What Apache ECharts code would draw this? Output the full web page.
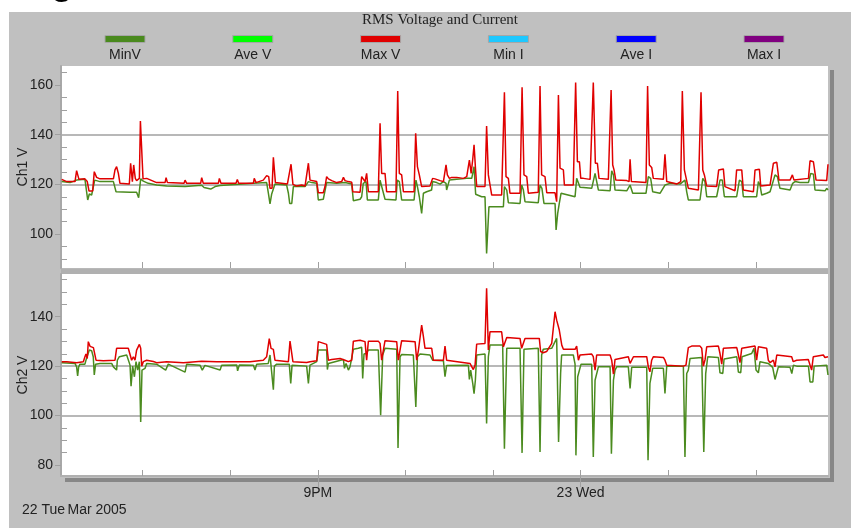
<!DOCTYPE html>
<html><head><meta charset="utf-8">
<script src="https://cdn.jsdelivr.net/npm/echarts@6/dist/echarts.min.js"></script>
<style>html,body{margin:0;padding:0;background:#fff}#c{width:851px;height:531px}</style>
</head><body><div id="c"></div>
<script>
// time in minutes after 18:00 on 22 Mar 2005, value in volts
const ch1Max = [[4.5,122.0],[7.9,121.1],[13.6,121.1],[14.7,125.5],[16.3,122.0],[20.4,122.2],[22.0,121.1],[23.2,117.3],[25.7,117.3],[26.8,125.1],[28.4,122.8],[30.7,122.2],[39.9,122.2],[41.0,125.8],[42.1,127.1],[43.3,124.4],[44.4,120.4],[50.8,120.1],[51.7,128.5],[52.9,121.1],[53.8,127.8],[54.9,122.4],[55.8,121.5],[57.7,122.4],[58.4,145.5],[59.3,145.5],[60.2,122.2],[62.7,122.4],[69.5,120.7],[75.3,120.7],[76.0,122.7],[76.9,120.7],[88.3,120.4],[89.0,121.7],[90.1,120.4],[99.7,120.4],[100.4,122.7],[101.5,120.4],[111.8,120.4],[112.5,122.4],[113.6,120.4],[123.9,120.4],[124.8,122.0],[125.7,120.4],[135.8,120.4],[136.4,122.4],[137.6,120.7],[142.6,121.7],[144.9,123.5],[146.3,123.1],[147.2,118.4],[148.6,118.4],[149.5,130.9],[150.9,120.7],[159.1,120.1],[160.2,119.7],[161.6,128.1],[162.9,120.0],[165.5,119.3],[168.9,119.7],[171.2,119.3],[173.5,128.5],[174.6,121.7],[175.8,121.5],[179.2,121.1],[180.3,116.6],[183.7,116.6],[184.9,119.1],[186.0,123.1],[187.2,122.2],[189.5,121.5],[192.9,120.7],[196.3,121.1],[197.5,122.8],[198.6,121.5],[200.9,121.1],[203.2,120.8],[203.9,117.0],[208.9,116.8],[210.0,123.1],[211.1,123.8],[212.3,121.1],[213.4,124.4],[214.6,117.0],[221.4,117.0],[222.6,144.6],[223.7,124.4],[226.0,124.4],[227.1,117.0],[233.5,117.0],[234.7,157.6],[235.8,124.4],[237.4,123.8],[238.6,117.0],[245.9,117.0],[247.0,140.6],[248.2,127.1],[249.5,123.8],[251.1,119.1],[252.3,119.3],[256.8,119.3],[258.6,122.4],[260.2,122.2],[263.7,121.5],[266.0,121.1],[267.8,127.8],[268.7,123.8],[270.1,122.4],[271.7,122.8],[275.1,122.8],[279.7,122.4],[282.0,123.1],[283.8,129.8],[285.0,124.4],[286.1,130.1],[287.0,135.9],[287.9,127.1],[288.8,119.1],[294.5,119.1],[295.6,143.5],[296.8,123.8],[297.9,123.1],[299.1,115.7],[305.9,115.7],[307.8,157.1],[308.9,123.1],[310.5,122.4],[311.6,116.4],[318.5,116.4],[319.9,159.1],[321.2,123.8],[323.1,123.1],[324.2,116.4],[331.0,116.8],[332.2,159.6],[333.3,123.8],[335.6,123.1],[336.8,116.6],[342.5,116.6],[343.6,113.0],[344.8,156.0],[345.9,126.5],[347.0,126.5],[348.2,125.8],[348.9,119.7],[355.0,119.7],[356.6,161.0],[357.8,129.1],[359.2,129.1],[360.1,122.4],[361.9,122.4],[366.5,122.0],[367.6,121.7],[368.7,161.0],[370.1,128.5],[371.5,128.5],[372.6,122.4],[379.0,122.0],[380.2,121.7],[380.9,158.0],[382.0,127.8],[382.9,125.8],[384.1,121.7],[391.6,121.5],[393.2,121.1],[393.9,130.1],[394.8,121.1],[404.8,120.7],[405.9,159.6],[407.1,127.8],[408.7,126.8],[409.8,122.4],[416.7,122.0],[417.8,132.1],[419.0,121.1],[420.1,120.4],[425.8,120.1],[428.6,121.1],[429.7,157.6],[431.1,125.8],[432.2,125.1],[433.8,118.4],[440.7,117.7],[442.5,157.1],[443.7,125.8],[444.8,123.8],[446.4,119.3],[453.2,119.1],[454.6,125.8],[457.8,126.2],[458.9,119.1],[465.8,117.4],[466.9,125.8],[470.4,125.8],[471.5,117.7],[478.4,117.0],[479.5,125.8],[482.5,126.1],[483.4,119.3],[489.8,119.7],[492.1,128.5],[494.4,128.9],[495.9,121.7],[503.5,121.7],[505.1,123.8],[506.2,121.7],[516.1,122.4],[517.2,129.5],[519.5,129.1],[521.3,121.7],[528.6,121.5],[529.5,128.1]];

const ch1Min = [[4.5,121.1],[10.2,120.7],[14.7,121.7],[20.4,122.0],[21.1,119.0],[22.3,113.7],[23.4,116.1],[25.0,115.7],[26.1,115.7],[27.1,121.7],[30.7,121.1],[39.9,121.1],[41.7,117.0],[51.3,116.8],[55.8,116.8],[57.2,114.6],[58.6,122.2],[60.4,121.3],[63.8,120.4],[69.5,119.7],[76.4,119.3],[89.0,119.1],[100.4,119.6],[102.0,118.7],[106.6,118.1],[109.6,119.1],[113.0,119.5],[135.8,120.4],[144.9,120.7],[146.1,116.4],[147.2,112.1],[148.3,116.0],[149.5,116.6],[150.6,120.1],[158.6,119.7],[159.8,116.4],[160.7,112.3],[162.1,112.3],[163.2,119.1],[171.2,119.1],[173.5,121.1],[175.8,120.7],[179.2,120.4],[180.3,113.7],[183.7,114.0],[184.9,114.4],[186.0,120.7],[187.2,121.1],[192.9,120.4],[198.6,120.7],[203.2,120.1],[204.3,113.4],[208.9,114.0],[210.0,115.0],[211.1,120.4],[213.0,121.1],[213.9,113.7],[221.4,113.7],[222.6,121.7],[223.7,121.1],[226.0,114.0],[233.5,113.7],[234.4,121.7],[235.8,121.1],[237.4,113.7],[245.9,113.7],[247.2,121.7],[248.2,119.1],[249.5,115.0],[251.1,108.3],[252.3,116.4],[254.5,117.0],[257.9,117.7],[258.6,121.1],[261.4,120.7],[263.7,120.1],[266.0,121.1],[267.8,120.4],[268.2,117.7],[270.1,121.7],[275.1,122.0],[282.0,122.4],[285.4,122.4],[287.0,127.1],[288.1,116.0],[292.2,115.0],[294.5,115.0],[295.6,92.2],[297.2,111.0],[307.1,111.0],[307.8,119.1],[309.4,117.7],[310.5,112.6],[318.5,112.3],[319.6,119.7],[320.8,117.7],[321.9,113.0],[331.0,112.6],[332.2,119.7],[333.5,118.4],[334.9,112.3],[342.5,112.3],[343.2,101.6],[344.3,108.3],[345.4,112.3],[346.6,116.4],[347.7,115.7],[356.2,115.0],[357.3,122.4],[358.5,122.4],[359.6,118.8],[361.9,118.7],[367.6,118.4],[368.7,118.4],[369.9,124.4],[371.0,123.8],[372.2,117.7],[380.2,117.4],[381.3,125.4],[382.5,123.8],[383.6,117.7],[391.6,117.4],[393.9,119.7],[395.7,116.4],[404.8,116.4],[406.4,123.1],[408.0,122.4],[409.4,117.0],[414.4,116.4],[417.8,119.7],[418.5,120.1],[421.3,120.4],[428.1,120.1],[431.5,121.7],[432.7,117.0],[433.8,113.7],[441.8,113.7],[443.7,122.4],[445.2,121.1],[446.4,115.0],[453.2,115.0],[455.5,121.7],[457.1,121.7],[458.5,115.0],[466.9,115.0],[468.8,121.7],[470.4,121.1],[471.5,115.0],[480.6,115.0],[481.8,121.1],[482.9,119.7],[484.1,115.7],[487.5,116.4],[489.8,117.0],[493.2,123.8],[494.8,123.1],[496.6,118.4],[503.5,117.7],[505.3,120.4],[506.9,121.1],[510.3,120.7],[516.1,120.7],[517.7,124.4],[519.5,124.1],[520.6,117.7],[527.5,117.4],[528.6,118.4],[529.5,117.7]];

const ch2Max = [[4.5,121.8],[7.9,121.8],[14.7,121.4],[19.3,121.8],[20.4,123.8],[21.1,124.9],[22.0,123.1],[22.7,129.9],[23.9,128.0],[26.2,127.5],[27.3,127.5],[28.0,122.4],[28.9,121.8],[33.0,122.2],[41.0,122.4],[42.1,127.2],[43.3,127.4],[50.1,127.2],[51.3,126.8],[52.4,122.4],[53.6,123.8],[54.7,122.4],[55.8,126.5],[57.7,128.8],[58.6,127.2],[59.3,120.0],[60.4,121.8],[62.7,122.4],[67.3,121.9],[69.5,121.4],[76.4,121.8],[87.8,121.4],[100.4,122.0],[110.7,121.8],[122.1,121.8],[133.5,121.8],[142.6,122.4],[144.9,123.8],[146.7,131.1],[147.9,127.2],[149.5,126.8],[150.6,122.4],[151.8,121.8],[159.8,121.8],[160.9,130.1],[162.0,129.9],[162.9,121.8],[172.3,121.5],[173.5,120.8],[174.6,121.8],[179.2,122.2],[180.3,129.9],[181.5,129.2],[186.0,128.8],[187.2,122.4],[189.5,122.7],[195.2,123.1],[198.6,122.4],[200.9,121.8],[203.2,122.4],[204.3,130.1],[208.9,130.5],[212.3,129.9],[213.4,122.4],[214.6,130.1],[221.4,130.1],[222.6,129.2],[223.7,122.4],[226.0,130.3],[234.0,129.9],[235.1,122.4],[237.4,130.3],[246.6,129.9],[247.7,122.4],[248.9,126.5],[251.1,136.6],[252.3,131.9],[253.4,127.2],[258.0,127.2],[259.1,122.4],[266.0,122.4],[267.1,128.1],[268.2,122.4],[269.4,121.8],[284.2,121.1],[285.4,120.8],[286.5,118.6],[287.7,120.4],[288.8,128.9],[294.5,129.2],[295.6,151.5],[296.8,126.5],[297.9,133.9],[305.9,133.9],[307.1,127.8],[308.2,127.5],[309.4,131.6],[318.5,131.2],[319.6,127.2],[320.8,127.2],[321.9,131.2],[331.7,131.2],[332.6,125.9],[334.4,125.4],[336.7,125.9],[340.2,129.2],[342.5,142.0],[343.6,138.6],[345.4,134.6],[347.1,128.5],[348.2,126.8],[356.2,126.8],[357.3,128.1],[358.5,122.4],[359.6,124.5],[367.6,124.9],[368.7,123.8],[369.9,118.4],[371.0,124.5],[380.2,124.5],[381.3,122.4],[382.5,116.8],[383.6,122.7],[384.7,123.5],[392.7,123.8],[393.9,121.1],[395.0,120.8],[396.2,123.8],[405.3,123.8],[406.4,119.7],[407.5,117.7],[408.7,122.4],[409.8,123.8],[416.7,123.5],[417.8,122.4],[419.0,120.4],[430.4,120.0],[432.2,120.4],[433.8,127.5],[436.1,128.1],[441.8,128.1],[443.0,127.2],[444.1,120.0],[445.3,122.7],[446.4,127.8],[454.4,128.1],[455.5,125.1],[456.7,120.8],[457.8,127.2],[467.0,127.5],[468.1,124.5],[469.2,121.4],[470.4,127.2],[479.5,128.1],[480.6,122.4],[481.8,127.8],[487.5,127.2],[488.6,122.4],[489.8,121.4],[492.1,122.4],[493.2,119.7],[494.4,124.5],[504.6,123.8],[505.7,121.8],[508.0,122.4],[516.0,122.7],[517.2,120.4],[518.3,118.4],[519.4,123.8],[526.3,124.5],[527.4,123.5],[529.5,123.8]];

const ch2Min = [[4.5,121.4],[13.6,121.1],[14.7,119.7],[15.4,116.0],[16.1,119.7],[17.0,120.8],[20.4,120.8],[21.1,122.4],[23.4,126.5],[25.0,126.2],[26.1,123.8],[26.8,116.4],[27.7,120.8],[30.7,121.1],[38.7,121.1],[39.9,119.7],[41.0,119.7],[42.1,118.4],[42.6,122.4],[44.0,123.8],[49.0,124.5],[50.1,123.8],[51.3,120.4],[52.0,111.9],[53.1,120.0],[54.3,115.7],[55.4,121.8],[56.5,118.4],[57.7,121.8],[58.6,97.4],[59.5,118.4],[60.4,118.4],[61.6,119.1],[62.7,121.1],[69.5,120.8],[75.7,118.4],[77.5,120.8],[89.0,117.6],[90.1,120.8],[99.2,120.4],[100.8,118.4],[102.6,120.3],[113.0,118.4],[114.1,120.4],[124.4,120.5],[125.0,118.1],[126.2,120.5],[135.8,120.4],[136.9,118.4],[138.1,120.8],[146.0,121.1],[147.2,124.5],[148.3,124.9],[149.5,110.5],[150.2,120.0],[151.8,120.8],[160.4,120.8],[161.4,113.0],[162.3,120.4],[172.3,120.0],[173.5,113.0],[174.6,120.4],[179.2,121.8],[180.3,126.5],[186.0,126.5],[186.5,118.6],[187.2,121.1],[197.5,122.7],[198.2,119.1],[199.3,121.1],[200.9,118.4],[202.0,119.7],[204.3,126.8],[207.7,127.2],[210.0,127.6],[210.7,115.0],[211.6,124.9],[213.0,125.1],[214.6,126.5],[221.4,126.5],[223.0,100.1],[224.4,124.5],[226.0,127.2],[234.0,126.8],[234.9,86.9],[236.3,123.8],[237.4,124.7],[245.4,124.5],[247.1,103.5],[248.2,123.8],[250.0,124.9],[256.8,124.5],[258.6,122.4],[259.6,121.8],[266.0,122.2],[267.1,115.7],[268.2,120.3],[269.4,120.8],[283.1,120.4],[283.8,114.6],[284.7,118.4],[286.1,113.0],[287.0,108.9],[287.9,114.3],[288.8,124.5],[294.5,124.9],[295.6,96.8],[296.8,123.8],[297.9,128.5],[306.6,128.5],[307.8,86.6],[309.4,127.2],[318.5,127.2],[319.9,84.9],[321.2,126.8],[331.0,127.2],[332.2,85.3],[333.3,124.5],[334.4,126.8],[340.2,127.2],[343.6,131.2],[344.9,89.3],[346.3,117.0],[347.0,124.5],[355.0,124.5],[356.2,120.8],[356.8,83.9],[358.0,115.7],[359.1,115.0],[360.3,120.8],[367.6,120.8],[368.7,83.2],[369.9,114.3],[371.0,114.3],[372.2,119.7],[380.2,119.7],[381.1,84.6],[382.5,114.3],[383.6,118.4],[384.7,119.7],[392.7,119.7],[393.9,111.0],[395.0,119.5],[405.3,119.5],[406.2,81.9],[407.5,113.0],[409.4,119.1],[416.7,119.1],[417.8,108.9],[419.0,120.0],[430.4,120.0],[431.5,83.2],[432.7,117.0],[433.8,118.4],[435.0,123.1],[443.0,123.5],[444.4,85.3],[445.7,117.0],[447.1,123.8],[454.4,123.5],[455.5,117.3],[457.4,117.0],[458.3,122.9],[467.0,123.8],[468.1,117.6],[469.7,117.3],[470.6,123.8],[477.2,125.1],[478.8,127.2],[480.2,118.4],[481.8,117.3],[482.9,121.8],[488.6,121.1],[491.6,119.5],[493.2,114.6],[494.4,114.6],[495.5,119.7],[503.5,119.5],[504.7,117.0],[505.8,120.4],[508.1,120.0],[516.1,120.0],[517.2,113.6],[519.1,113.6],[520.0,120.0],[528.6,120.4],[529.5,116.4]];

const legendNames = ['MinV', 'Ave V', 'Max V', 'Min I', 'Ave I', 'Max I'];
const legendColors = ['#4a8a1e', '#00ff00', '#e00000', '#1ec8ff', '#0000ff', '#800080'];
const hourTicks = [60, 120, 180, 240, 300, 360, 420, 480];
const labelAt = [180, 360];
const labelText = ['9PM', '23 Wed'];
const ch1Major = [100, 120, 140, 160];
const ch1Minor = [90, 95, 105, 110, 115, 125, 130, 135, 145, 150, 155, 165];
const ch2Major = [80, 100, 120, 140];
const ch2Minor = [85, 90, 95, 105, 110, 115, 125, 130, 135, 145, 150, 155];

const X_MIN = 4, X_MAX = 529.5;
const Y1 = [86.31, 167.65], Y2 = [75.55, 157.27];
const FONT = "'Liberation Sans', Arial, sans-serif";
const TICK = '#a0a0a0', GRIDC = '#b8b8b8', TXT = '#222';
const RED = '#e00000', GREEN = '#4b8b1f';

const chart = echarts.init(document.getElementById('c'), null, {renderer: 'canvas', width: 851, height: 531});

function xAxes(gi) {
  const base = {type: 'value', gridIndex: gi, min: X_MIN, max: X_MAX, position: 'bottom', splitLine: {show: false}};
  const list = [Object.assign({}, base, {
    axisLine: gi === 1 ? {show: true, lineStyle: {color: '#b0b0b0', width: 2}} : {show: false},
    axisTick: {show: true, inside: true, length: 6, customValues: hourTicks, lineStyle: {color: TICK, width: 1}},
    axisLabel: gi === 1 ? {show: true, customValues: labelAt, margin: 10, fontSize: 14, color: TXT, fontFamily: FONT,
      formatter: v => labelText[labelAt.indexOf(Math.round(v))] || ''} : {show: false}
  })];
  if (gi === 1) list.push(Object.assign({}, base, {
    axisLine: {show: false},
    axisTick: {show: true, inside: false, length: 11, customValues: labelAt, lineStyle: {color: TICK, width: 1}},
    axisLabel: {show: false}
  }));
  return list;
}
function yAxes(gi, ext, major, minor, name) {
  return [{
    type: 'value', gridIndex: gi, position: 'left', min: ext[0], max: ext[1],
    name: name, nameLocation: 'middle', nameGap: 31, nameRotate: 90, nameMoveOverlap: false,
    nameTextStyle: {fontSize: 14, color: TXT, fontFamily: FONT},
    axisLine: {show: true, lineStyle: {color: '#a8a8a8', width: 2}},
    axisTick: {show: true, inside: false, length: 6, customValues: major, lineStyle: {color: TICK}},
    axisLabel: {show: true, customValues: major, margin: 8, fontSize: 14, color: TXT, fontFamily: FONT},
    splitLine: {show: true, showMinLine: false, showMaxLine: false, lineStyle: {color: GRIDC, width: 2}}
  }, {
    type: 'value', gridIndex: gi, position: 'left', min: ext[0], max: ext[1],
    axisLine: {show: false},
    axisTick: {show: true, inside: true, length: 6, customValues: minor, lineStyle: {color: TICK}},
    axisLabel: {show: false}, splitLine: {show: false}
  }];
}

const xa = xAxes(0).concat(xAxes(1));   // 0: grid0, 1-2: grid1
const ya = yAxes(0, Y1, ch1Major, ch1Minor, 'Ch1 V').concat(yAxes(1, Y2, ch2Major, ch2Minor, 'Ch2 V')); // 0-1 grid0, 2-3 grid1

function line(name, data, xi, yi, color) {
  return {type: 'line', name: name, data: data, xAxisIndex: xi, yAxisIndex: yi, showSymbol: false, symbol: 'none',
    lineStyle: {color: color, width: 1.5}, itemStyle: {color: color}, z: 3, silent: true, animation: false};
}

const graphics = [
  {type: 'rect', z: -10, shape: {x: 9, y: 12, width: 842, height: 516}, style: {fill: '#c0c0c0'}},
  {type: 'rect', z: -9, shape: {x: 830, y: 70, width: 4, height: 412}, style: {fill: '#878787'}},
  {type: 'rect', z: -9, shape: {x: 65, y: 478, width: 769, height: 4}, style: {fill: '#878787'}},
  {type: 'rect', z: -9, shape: {x: 61, y: 268.5, width: 767, height: 5.5}, style: {fill: '#b0b0b0'}},
  {type: 'text', z: 5, x: 50, y: -19.5, style: {text: 'g', fontSize: 44, fontFamily: FONT, fill: '#000', verticalAlign: 'middle'}},
  {type: 'text', z: 5, x: 440, y: 20.5, style: {text: 'RMS Voltage and Current', fontSize: 15, fontFamily: "'Liberation Serif', 'Times New Roman', serif", fill: TXT, align: 'center', verticalAlign: 'middle'}},
  {type: 'text', z: 5, x: 22, y: 510, style: {text: '22 Tue', fontSize: 14, fontFamily: FONT, fill: TXT, align: 'left', verticalAlign: 'middle'}},
  {type: 'text', z: 5, x: 67.5, y: 510, style: {text: 'Mar 2005', fontSize: 14, fontFamily: FONT, fill: TXT, align: 'left', verticalAlign: 'middle'}}
];
legendNames.forEach((n, i) => {
  const cx = 125 + i * 127.8;
  graphics.push({type: 'rect', z: 5, shape: {x: cx - 20, y: 35.5, width: 40, height: 7}, style: {fill: legendColors[i], stroke: '#a6a6a6', lineWidth: 1}});
  graphics.push({type: 'text', z: 5, x: cx, y: 55, style: {text: n, fontSize: 14, fontFamily: FONT, fill: TXT, align: 'center', verticalAlign: 'middle'}});
});

chart.setOption({
  animation: false,
  backgroundColor: '#ffffff',
  grid: [
    {left: 61, top: 66, width: 767, height: 202, show: true, backgroundColor: '#ffffff', borderWidth: 0, containLabel: false, outerBoundsMode: 'none'},
    {left: 61, top: 274, width: 767, height: 202, show: true, backgroundColor: '#ffffff', borderWidth: 0, containLabel: false, outerBoundsMode: 'none'}
  ],
  xAxis: xa,
  yAxis: ya,
  graphic: graphics,
  series: [
    line('MinV', ch1Min, 0, 0, GREEN),
    line('Max V', ch1Max, 0, 0, RED),
    line('MinV', ch2Min, 1, 2, GREEN),
    line('Max V', ch2Max, 1, 2, RED)
  ]
});
</script></body></html>
